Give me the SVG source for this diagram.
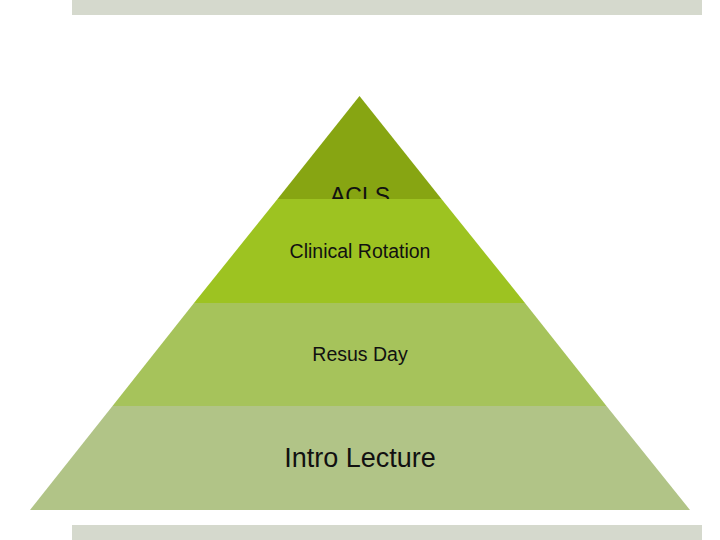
<svg xmlns="http://www.w3.org/2000/svg" width="720" height="540" viewBox="0 0 720 540">
<style>
.lbl{font-family:"Liberation Sans",Arial,sans-serif;fill:#111;text-anchor:middle}
.bar{fill:#D5D9CD}
</style>
<rect width="720" height="540" fill="#fff"/>
<rect class="bar" x="72" y="0" width="630" height="15"/>
<rect class="bar" x="72" y="525" width="630" height="15"/>
<g id="acls">
<polygon points="359.5,96 277.5,199 441.5,199" fill="#87A512"/>
<text class="lbl" x="360" y="204" font-size="23">ACLS</text>
</g>
<g id="clinical-rotation">
<polygon points="277.5,199 441.5,199 525,303 194,303" fill="#9DC321"/>
<text class="lbl" x="360" y="258" font-size="19.5">Clinical Rotation</text>
</g>
<g id="resus-day">
<polygon points="194,303 525,303 606.5,406 112.5,406" fill="#A6C35B"/>
<text class="lbl" x="360" y="361" font-size="19.5">Resus Day</text>
</g>
<g id="intro-lecture">
<polygon points="112.5,406 606.5,406 690,510 30,510" fill="#B1C487"/>
<text class="lbl" x="360" y="467" font-size="27">Intro Lecture</text>
</g>
<g id="connectors"/>
</svg>
